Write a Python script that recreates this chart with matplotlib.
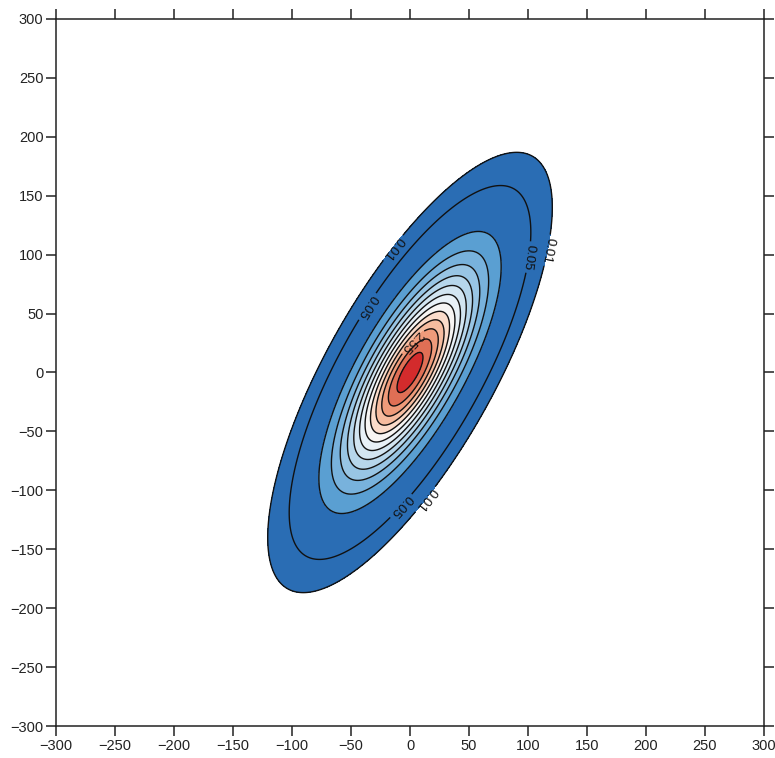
import numpy as np
import matplotlib
matplotlib.use("Agg")
import matplotlib.pyplot as plt

plt.rcParams['font.family'] = ['Liberation Sans', 'DejaVu Sans']

# --- distribution parameters (bivariate normal, scaled density) ---
mean_x = 0.0
mean_y = 0.0
sigma_x = 35.5
sigma_y = 55.0
rho = 0.75
peak = 3.2

# --- contour levels ---
levels = [0.01, 0.05, 0.3, 0.55, 0.8, 1.05, 1.3, 1.55, 1.8, 2.05, 2.3, 2.55, 2.8, 3.05]
labeled_levels = [0.01, 0.05, 2.55]

# --- band colours (one per band, last = above top level) ---
band_colors = ['#2a6db4', '#2a6db4',
               '#5a9fd2', '#78b2dc', '#98c5e4', '#b6d6eb', '#d2e5f1', '#e8f1f7',
               '#f7f5f3',
               '#fbdcca', '#f6bc9f', '#ef9b7a', '#e06f55',
               '#d32b2c']

# --- axis ticks ---
ticks = [-300, -250, -200, -150, -100, -50, 0, 50, 100, 150, 200, 250, 300]

gx = np.linspace(-300, 300, 801)
gy = np.linspace(-300, 300, 801)
X, Y = np.meshgrid(gx, gy)
zx = (X - mean_x) / sigma_x
zy = (Y - mean_y) / sigma_y
Q = (zx**2 - 2 * rho * zx * zy + zy**2) / (1 - rho**2)
Z = peak * np.exp(-0.5 * Q)

fig = plt.figure(figsize=(7.75, 7.58), dpi=100)
ax = fig.add_axes([0.0723, 0.0422, 0.9135, 0.9328])

ax.contourf(X, Y, Z, levels=levels, colors=band_colors, extend='max')

plain_levels = [l for l in levels if l not in labeled_levels]
ax.contour(X, Y, Z, levels=plain_levels, colors='#111111', linewidths=1.0)

label_pos = {
    0.01: [(-12, 104), (115, 104), (11, -106)],
    0.05: [(-36, 56), (100, 98), (-11, -110)],
    2.55: [(-2, 30)],
}
flip = {0.01: [1, 2], 0.05: [1, 2], 2.55: []}
for lv in labeled_levels:
    cs = ax.contour(X, Y, Z, levels=[lv], colors='#111111', linewidths=1.0)
    texts = ax.clabel(cs, inline=True, fontsize=9.5, fmt=lambda v: f'{v:g}',
                      manual=label_pos[lv], inline_spacing=3, colors='#111111',
                      rightside_up=False)
    for i in flip[lv]:
        if i < len(texts):
            t = texts[i]
            t.set_rotation(t.get_rotation() + 180)

ax.set_xlim(-300, 300)
ax.set_ylim(-300, 300)
ax.set_xticks(ticks)
ax.set_yticks(ticks)
ax.tick_params(axis='both', which='major', direction='out', length=7, width=1.1,
               labelsize=10.5, top=True, right=True, labeltop=False, labelright=False,
               colors='#222222', pad=2)
for s in ax.spines.values():
    s.set_linewidth(1.1)
    s.set_color('#222222')

fig.savefig('out.png', dpi=100)
